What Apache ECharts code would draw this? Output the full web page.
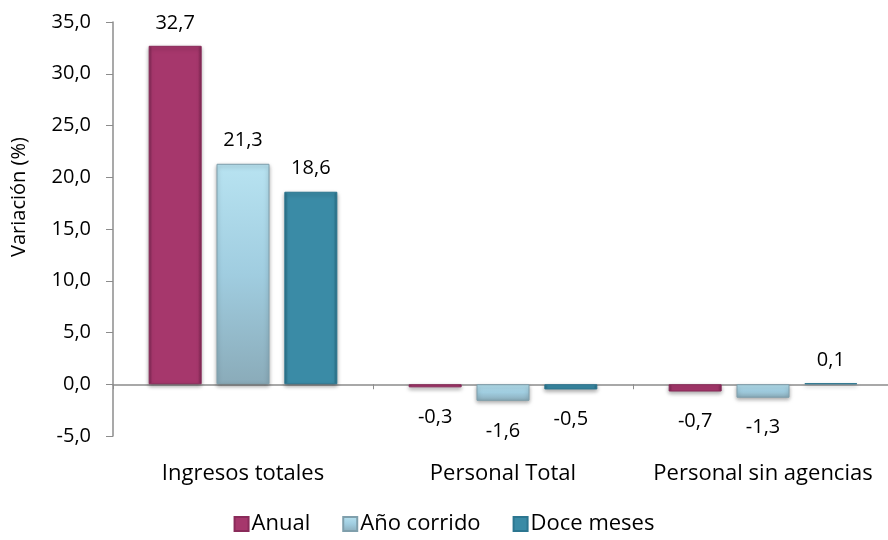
<!DOCTYPE html>
<html>
<head>
<meta charset="utf-8">
<script src="https://cdn.jsdelivr.net/npm/echarts@6/dist/echarts.min.js"></script>
<style>
  html, body { margin: 0; padding: 0; background: #fff; }
  #chart { width: 888px; height: 540px; }
</style>
</head>
<body>
<div id="chart"></div>
<script>
var categories = ['Ingresos totales', 'Personal Total', 'Personal sin agencias']
var anual = [32.7, -0.3, -0.7]
var anoCorrido = [21.3, -1.6, -1.3]
var doceMeses = [18.6, -0.5, 0.1]
var yTicks = { min: -5, max: 35, step: 5 }

var font = 'Open Sans'

function edgeGradient (edge, main) {
  return new echarts.graphic.LinearGradient(0, 0, 1, 0, [
    { offset: 0, color: edge },
    { offset: 0.07, color: main },
    { offset: 0.93, color: main },
    { offset: 1, color: edge }
  ])
}

function label () {
  return {
    show: true,
    fontFamily: font,
    fontSize: 20,
    color: '#000',
    formatter: function (p) {
      return p.value.toFixed(1).replace('.', ',')
    }
  }
}

function bars (name, values, fill, border) {
  return {
    name: name,
    type: 'bar',
    barWidth: 53,
    barGap: '28%',
    data: values.map(function (v) {
      return {
        value: v,
        label: { position: v < 0 ? 'bottom' : 'top', distance: v < 0 ? 20 : 13 }
      }
    }),
    label: label(),
    itemStyle: {
      color: fill,
      borderColor: border,
      borderWidth: 1,
      shadowColor: 'rgba(0,0,0,0.35)',
      shadowBlur: 4,
      shadowOffsetY: 2
    }
  }
}

var myChart = echarts.init(document.getElementById('chart'))
var option = {
  animation: false,
  grid: { left: 113, right: -5, top: 22, bottom: 104, outerBoundsMode: 'none' },
  legend: {
    bottom: 0,
    left: 'center',
    itemWidth: 14,
    itemHeight: 14,
    itemGap: 32,
    icon: 'rect',
    textStyle: { fontFamily: font, fontSize: 22, color: '#000', padding: [0, 0, 0, -2] },
    data: ['Anual', 'Año corrido', 'Doce meses']
  },
  xAxis: {
    type: 'category',
    data: categories,
    axisLine: { onZero: true, lineStyle: { color: '#8c8c8c', width: 1.5 } },
    axisTick: { show: true, length: 5, lineStyle: { color: '#8c8c8c' } },
    axisLabel: { interval: 0, margin: 27, fontFamily: font, fontSize: 22, color: '#000' }
  },
  yAxis: {
    type: 'value',
    min: yTicks.min,
    max: yTicks.max,
    interval: yTicks.step,
    name: 'Variación (%)',
    nameLocation: 'middle',
    nameRotate: 90,
    nameGap: 84,
    nameTextStyle: { fontFamily: font, fontSize: 20, color: '#000', padding: [0, 0, 0, 64] },
    axisLine: { show: true, lineStyle: { color: '#8c8c8c', width: 1.5 } },
    axisTick: { show: true, length: 7, lineStyle: { color: '#8c8c8c' } },
    splitLine: { show: false },
    axisLabel: {
      margin: 22,
      fontFamily: font,
      fontSize: 20,
      color: '#000',
      formatter: function (v) { return v.toFixed(1).replace('.', ',') }
    }
  },
  series: [
    bars('Anual', anual, edgeGradient('#7a2550', '#a6376c'), '#8a2b5a'),
    bars('Año corrido', anoCorrido,
      new echarts.graphic.LinearGradient(0, 0, 0, 1, [
        { offset: 0, color: '#b8e3f1' },
        { offset: 0.5, color: '#a0cde0' },
        { offset: 1, color: '#8aabb9' }
      ]), '#7f9fac'),
    bars('Doce meses', doceMeses, edgeGradient('#256b82', '#3a8ba6'), '#2c7690')
  ]
}
myChart.setOption(option)
</script>
</body>
</html>
